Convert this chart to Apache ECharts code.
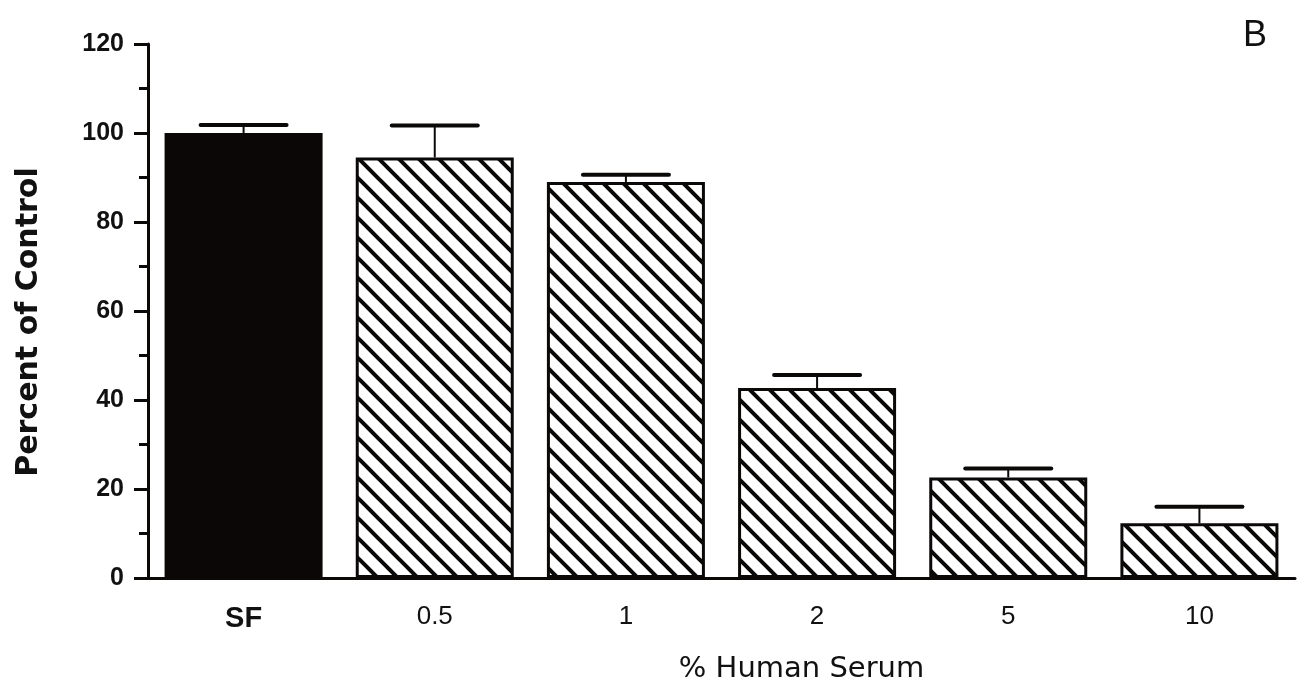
<!DOCTYPE html>
<html>
<head>
<meta charset="utf-8">
<script src="https://cdn.jsdelivr.net/npm/echarts@6/dist/echarts.min.js"></script>
<style>html,body{margin:0;padding:0;background:#fff;}#chart{width:1305px;height:699px;}</style>
</head>
<body>
<div id="chart"></div>
<script>
// ---- data ----
const categories = ['SF', '0.5', '1', '2', '5', '10'];
const meanValues = [100, 94.5, 89, 42.7, 22.6, 12.3];
const errorTop = [101.8, 101.7, 90.6, 45.6, 24.6, 16];
const yTicks = { min: 0, max: 120, interval: 20 };

// ---- hatch pattern (\\\ diagonal lines) ----
function makeHatch() {
  const s = 20;
  const c = document.createElement('canvas');
  c.width = s; c.height = s;
  const g = c.getContext('2d');
  g.fillStyle = '#ffffff';
  g.fillRect(0, 0, s, s);
  g.strokeStyle = '#0b0808';
  g.lineWidth = 4;
  for (let k = -s; k <= s; k += s) {
    g.beginPath();
    g.moveTo(k - 2, -2);
    g.lineTo(k + s + 2, s + 2);
    g.stroke();
  }
  return c;
}
const hatch = { image: makeHatch(), repeat: 'repeat' };

const barData = meanValues.map((v, i) => ({
  value: v,
  itemStyle: i === 0
    ? { color: '#0c0707', borderColor: '#0c0707', borderWidth: 3 }
    : { color: hatch, borderColor: '#0b0808', borderWidth: 3 }
}));
const errData = categories.map((c, i) => [i, meanValues[i], errorTop[i]]);

const chart = echarts.init(document.getElementById('chart'), null, { renderer: 'canvas' });
chart.setOption({
  backgroundColor: '#ffffff',
  animation: false,
  title: {
    text: 'B',
    left: 1238, top: 13,
    textStyle: { fontFamily: 'Liberation Sans', fontSize: 36, fontWeight: 'normal', color: '#111' }
  },
  grid: { left: 148, right: 10, top: 44, bottom: 121, containLabel: false },
  xAxis: {
    type: 'category',
    data: categories,
    boundaryGap: true,
    axisLine: { show: true, lineStyle: { color: '#0b0808', width: 3 } },
    axisTick: { show: false },
    axisLabel: {
      margin: 26,
      color: '#111',
      fontFamily: 'Liberation Sans',
      fontSize: 26,
      formatter: function (v) { return v === 'SF' ? '{b|' + v + '}' : v; },
      rich: { b: { fontFamily: 'Liberation Sans', fontSize: 29, fontWeight: 'bold', color: '#111' } }
    },
    name: '% Human Serum',
    nameLocation: 'middle',
    nameGap: 77,
    nameTextStyle: { fontFamily: 'DejaVu Sans', fontSize: 29, color: '#111', padding: [0, 0, 0, 160] }
  },
  yAxis: {
    type: 'value',
    min: yTicks.min, max: yTicks.max, interval: yTicks.interval,
    axisLine: { show: true, lineStyle: { color: '#0b0808', width: 3 } },
    axisTick: { show: true, length: 14, lineStyle: { color: '#0b0808', width: 3 } },
    minorTick: { show: true, splitNumber: 2, length: 9, lineStyle: { color: '#0b0808', width: 3 } },
    splitLine: { show: false },
    axisLabel: { margin: 24, color: '#111', fontFamily: 'Liberation Sans', fontSize: 25, fontWeight: 'bold' },
    name: 'Percent of Control',
    nameLocation: 'middle',
    nameGap: 104,
    nameTextStyle: { fontFamily: 'DejaVu Sans', fontSize: 30, fontWeight: 'bold', color: '#111', padding: [0, 22, 0, 0] }
  },
  series: [
    {
      type: 'bar',
      data: barData,
      barWidth: 158,
      z: 2
    },
    {
      type: 'custom',
      data: errData,
      z: 3,
      renderItem: function (params, api) {
        const x = api.value(0);
        const low = api.coord([x, api.value(1)]);
        const high = api.coord([x, api.value(2)]);
        const half = 43;
        return {
          type: 'group',
          children: [
            { type: 'line', shape: { x1: low[0], y1: low[1], x2: high[0], y2: high[1] },
              style: { stroke: '#0b0808', lineWidth: 2 } },
            { type: 'line', shape: { x1: high[0] - half, y1: high[1], x2: high[0] + half, y2: high[1] },
              style: { stroke: '#0b0808', lineWidth: 4, lineCap: 'round' } }
          ]
        };
      }
    }
  ]
});
</script>
</body>
</html>
